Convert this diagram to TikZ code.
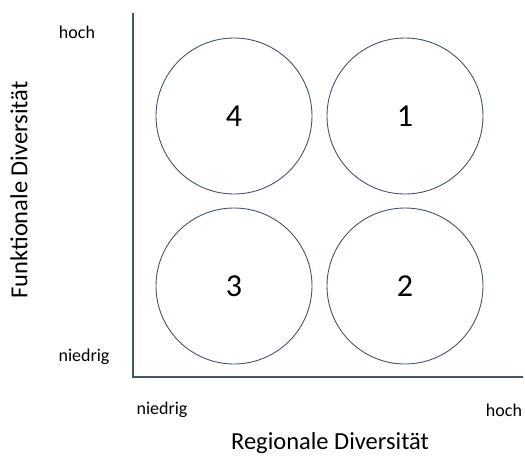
\documentclass[tikz,border=0pt]{standalone}
\usepackage{fontspec}
\setmainfont{Carlito}
\usepackage{tikz}
\usetikzlibrary{positioning}
\definecolor{axisgray}{HTML}{44546A}

\begin{document}
\begin{tikzpicture}[
    x=1pt, y=-1pt,
    quadrant/.style={circle, minimum size=156pt, inner sep=0pt, draw=axisgray, line width=0.9pt, font=\fontsize{32}{36}\selectfont},
    tick/.style={font=\fontsize{18}{21}\selectfont, inner sep=0pt},
    axislabel/.style={font=\fontsize{24.5}{29}\selectfont, inner sep=0pt},
    axis/.style={draw=axisgray, line width=1.2pt}
]
\useasboundingbox (0,0) rectangle (525,459);
\coordinate (origin) at (133,377);
\coordinate (ytop) at (133,13);
\coordinate (xend) at (523,377);
\draw [axis] (ytop) -- (origin) -- (xend);
\node (q4) [quadrant] at (234,116) {4};
\node (q1) [quadrant] at (405,116) {1};
\node (q3) [quadrant] at (234,286) {3};
\node (q2) [quadrant] at (405,286) {2};
\node (yhigh) [tick] at (77,32) {hoch};
\node (ylow) [tick] at (84,357) {niedrig};
\node (xlow) [tick] at (162,410) {niedrig};
\node (xhigh) [tick] at (504,410) {hoch};
\node (xlabel) [axislabel] at (330,443) {Regionale Diversität};
\node (ylabel) [axislabel, rotate=90] at (19,190) {Funktionale Diversität};
\end{tikzpicture}
\end{document}
